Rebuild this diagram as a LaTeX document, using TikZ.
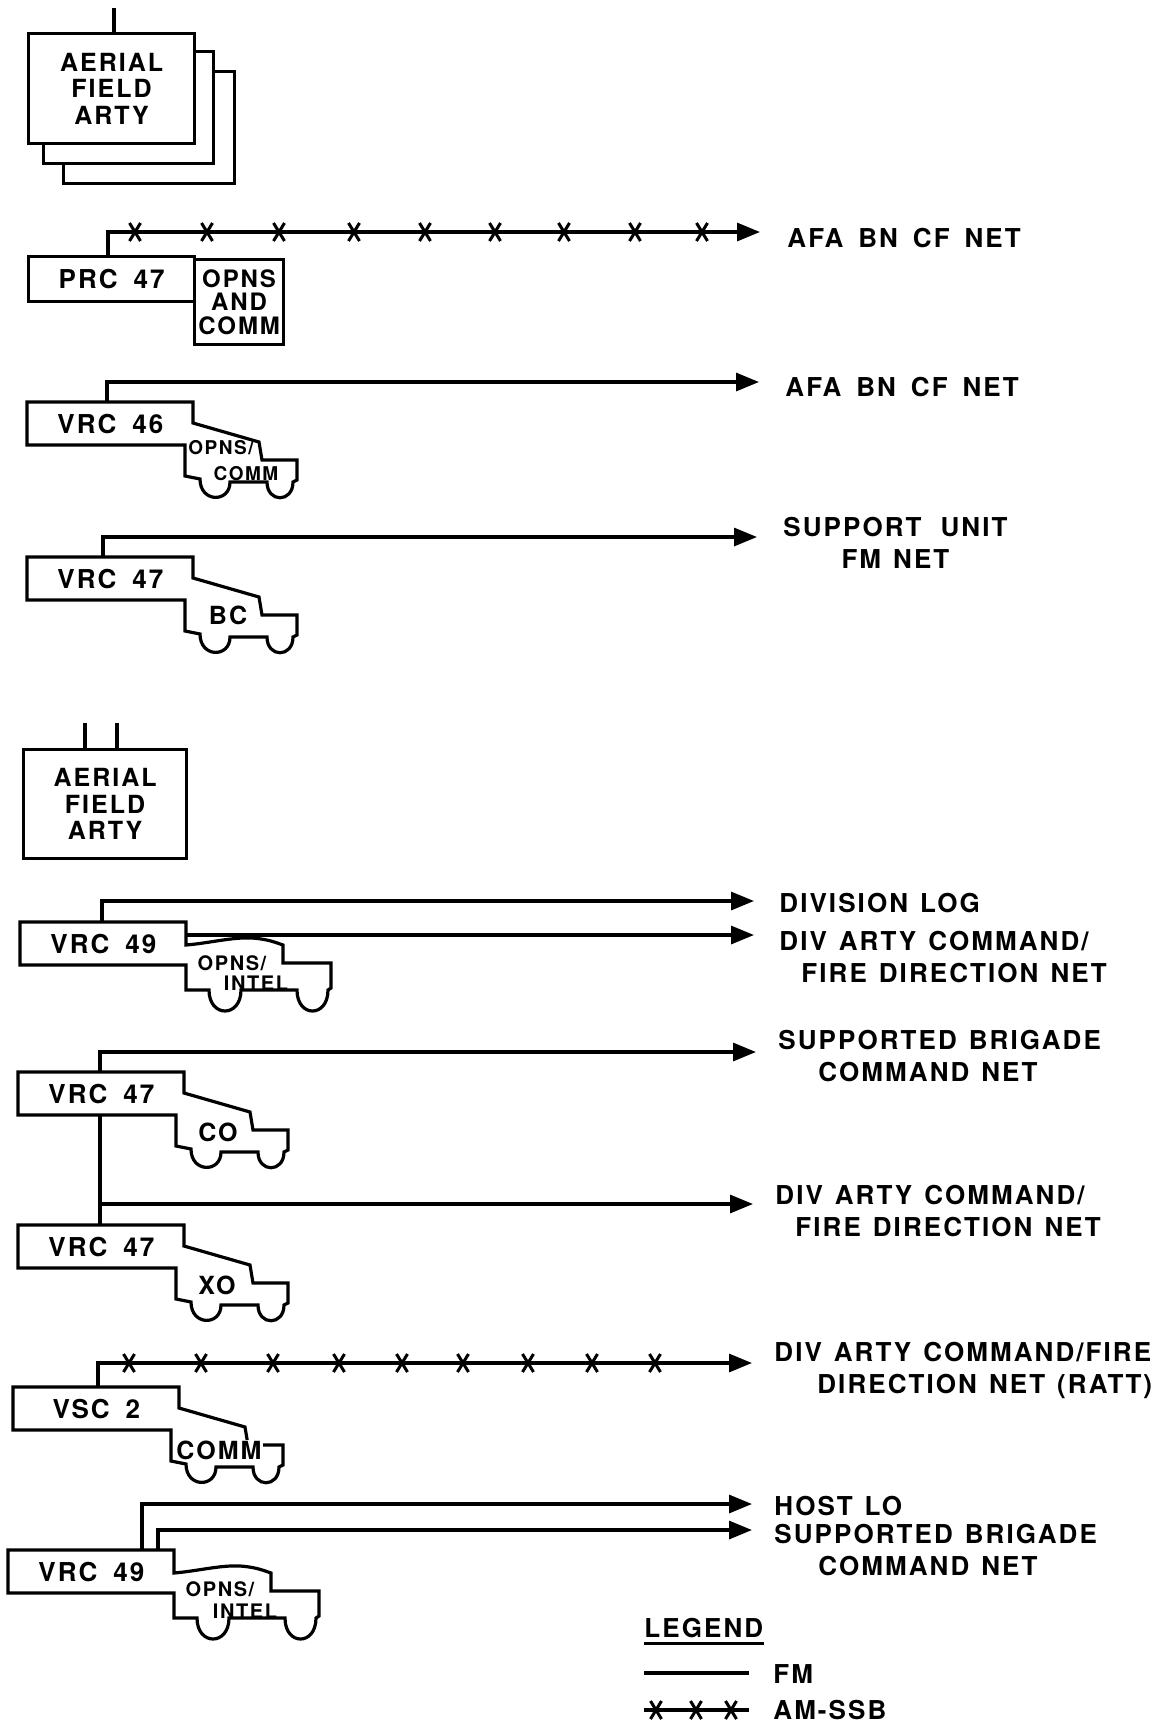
\documentclass[tikz,border=0pt]{standalone}
\usepackage{fontspec}
\setmainfont{TeX Gyre Heros}[LetterSpace=8]
\usetikzlibrary{arrows.meta,calc}
\tikzset{
  ln/.style={line width=1.6pt, line join=miter, line cap=butt},
  fm/.style={ln, -{Triangle[length=11.5pt,width=9pt]}},
  lbl/.style={anchor=west, align=left, inner sep=0pt, font={\bfseries\fontsize{13}{16}\selectfont\spaceskip=6pt\relax}},
  vbox/.style={anchor=north west, minimum width=83pt, minimum height=21.5pt, inner sep=0pt, font={\bfseries\fontsize{13}{15}\selectfont\spaceskip=8pt\relax}},
  afabox/.style={draw, ln, fill=white, anchor=north west, inner sep=0pt, align=center, font={\bfseries\fontsize{12.5}{13.25}\selectfont}},
  tag/.style={inner sep=0.5pt, font={\bfseries\fontsize{12.5}{15}\selectfont}},
  smalltag/.style={inner sep=0.5pt, font={\bfseries\fontsize{9.5}{11}\selectfont}},
  midtag/.style={inner sep=0.5pt, font={\bfseries\fontsize{10}{12}\selectfont}},
  jeep/.pic={\draw[ln] (0,0)--(166,0)--(166,21)--(232,40)--(235,58)--(270,58)--(270,78)--(266,80)
     .. controls (266,101) and (240,101) .. (240,80)--(203,80)
     .. controls (203,101) and (173,101) .. (173,77)--(158,74)--(158,43)--(0,43)--cycle;},
  truck/.pic={\draw[ln] (0,0)--(166,0)--(166,23) .. controls (190,21) and (212,15) .. (232,16)
     .. controls (248,17) and (257,21) .. (263,23)--(263,41)--(311,41)--(311,66)--(308,68)
     .. controls (308,96) and (277,96) .. (277,68)--(221,68)
     .. controls (221,96) and (189,96) .. (189,68)--(166,68)--(166,43)--(0,43)--cycle;},
  xmark/.pic={\draw[line width=1.5pt] (-5.5,-9)--(5.5,9) (5.5,-9)--(-5.5,9);},
}
\begin{document}
\begin{tikzpicture}[x=0.5pt,y=-0.5pt]
\useasboundingbox (0,0) rectangle (1173,1726);
\fill[white] (0,0) rectangle (1173,1726);

% ---------- top aerial field artillery stack
\node[afabox, minimum width=85.5pt, minimum height=56pt] (afa3) at (62,70) {};
\node[afabox, minimum width=85pt, minimum height=56pt] (afa2) at (42,50) {};
\node[afabox, minimum width=83pt, minimum height=55pt] (afa1) at (27,32) {AERIAL\\FIELD\\ARTY};
\coordinate (ant1) at (114,8);
\draw[ln] (afa1.north -| ant1) -- (ant1);

% ---------- PRC 47
\node[vbox, draw, ln, minimum height=22.5pt] (prc) at (27,255) {PRC 47};
\node[afabox, font={\bfseries\fontsize{12}{11.7}\selectfont}, minimum width=44.5pt, minimum height=42.5pt] (opns) at (193,258) {OPNS\\AND\\COMM};
\coordinate (t1) at (760,232);
\draw[fm] ($(prc.north west)+(81,0)$) |- (t1);
\foreach \x in {135,207,279,354,425,495,564,635,702} \pic at (\x,232) {xmark};
\node[lbl] (n1) at (787,238) {{\spaceskip=7.5pt\relax AFA BN CF NET}};

% ---------- VRC 46
\node[vbox] (vrc46) at (27,402) {VRC 46};
\pic at (vrc46.north west) {jeep};
\node[smalltag] (v46a) at (221,448) {OPNS/};
\node[smalltag] (v46b) at (246,474) {COMM};
\coordinate (t2) at (759,382);
\draw[fm] ($(vrc46.north west)+(80,0)$) |- (t2);
\node[lbl] (n2) at (785,387) {{\spaceskip=7.5pt\relax AFA BN CF NET}};

% ---------- VRC 47 BC
\node[vbox] (vrc47a) at (27,557) {VRC 47};
\pic at (vrc47a.north west) {jeep};
\node[tag] (bc) at (228,615) {BC};
\coordinate (t3) at (757,537);
\draw[fm] ($(vrc47a.north west)+(76,0)$) |- (t3);
\node[lbl, align=center] (n3) at (783,543) {{\spaceskip=9.5pt\relax SUPPORT UNIT}\\FM NET};

% ---------- second aerial field artillery
\node[afabox, minimum width=81.5pt, minimum height=54.5pt] (afa4) at (22,748) {AERIAL\\FIELD\\ARTY};
\coordinate (ant2) at (85,723);
\coordinate (ant3) at (117,723);
\draw[ln] (afa4.north -| ant2) -- (ant2);
\draw[ln] (afa4.north -| ant3) -- (ant3);

% ---------- VRC 49 (1)
\node[vbox] (vrc49a) at (20,922) {VRC 49};
\pic at (vrc49a.north west) {truck};
\node[midtag] (v49a1) at (232,963) {OPNS/};
\node[midtag] (v49a2) at (256,983) {INTEL};
\coordinate (t4) at (754,901);
\coordinate (t5) at (754,935);
\draw[fm] ($(vrc49a.north west)+(82,0)$) |- (t4);
\draw[fm] ($(vrc49a.north east)+(0,13)$) -- (t5);
\node[lbl] (n4) at (779,903) {DIVISION LOG};
\node[lbl] (n5) at (779,957) {DIV ARTY COMMAND/\\\hspace*{11pt}FIRE DIRECTION NET};

% ---------- VRC 47 CO
\node[vbox] (vrcco) at (18,1072) {VRC 47};
\pic at (vrcco.north west) {jeep};
\node[tag] (co) at (218,1132) {CO};
\coordinate (t6) at (756,1052);
\draw[fm] ($(vrcco.north west)+(82,0)$) |- (t6);
\node[lbl] (n6) at (778,1056) {SUPPORTED BRIGADE\\\hspace*{20pt}COMMAND NET};

% ---------- VRC 47 XO
\node[vbox] (vrcxo) at (18,1225) {VRC 47};
\pic at (vrcxo.north west) {jeep};
\node[tag] (xo) at (217,1285) {XO};
\draw[ln] ($(vrcco.south west)+(82,0)$) -- ($(vrcxo.north west)+(82,0)$);
\coordinate (br) at (100,1204);
\coordinate (t7) at (753,1204);
\draw[fm] (br) -- (t7);
\node[lbl] (n7) at (775,1211) {DIV ARTY COMMAND/\\\hspace*{10pt}FIRE DIRECTION NET};

% ---------- VSC 2
\node[vbox] (vsc) at (13,1387) {VSC 2};
\pic at (vsc.north west) {jeep};
\node[tag, fill=white] (comm) at (219,1450) {COMM};
\coordinate (t8) at (752,1363);
\draw[fm] ($(vsc.north west)+(85,0)$) |- (t8);
\foreach \x in {129,201,273,339,402,463,528,592,655} \pic at (\x,1363) {xmark};
\node[lbl] (n8) at (774,1370) {DIV ARTY COMMAND/FIRE\\\hspace*{21.5pt}DIRECTION NET (RATT)};

% ---------- VRC 49 (2)
\node[vbox] (vrc49b) at (8,1550) {VRC 49};
\pic at (vrc49b.north west) {truck};
\node[midtag] (v49b1) at (220,1589) {OPNS/};
\node[midtag] (v49b2) at (245,1611) {INTEL};
\coordinate (t9) at (752,1504);
\coordinate (t10) at (752,1530);
\draw[fm] ($(vrc49b.north west)+(134,0)$) |- (t9);
\draw[fm] ($(vrc49b.north west)+(150,0)$) |- (t10);
\node[lbl] (n9) at (774,1506) {HOST LO};
\node[lbl] (n10) at (774,1550) {SUPPORTED BRIGADE\\\hspace*{22pt}COMMAND NET};

% ---------- legend
\node[lbl] (leg) at (644,1628) {LEGEND};
\draw[ln] ($(leg.south west)+(0,5)$) -- ($(leg.south east)+(0,5)$);
\coordinate (fma) at (644,1673);
\coordinate (fmb) at (749,1673);
\draw[ln] (fma) -- (fmb);
\node[lbl] (fmt) at (773,1674) {FM};
\coordinate (ama) at (644,1710);
\coordinate (amb) at (749,1710);
\draw[ln] (ama) -- (amb);
\foreach \x in {656,696,731} \pic at (\x,1710) {xmark};
\node[lbl] (amt) at (773,1710) {AM-SSB};
\end{tikzpicture}
\end{document}
